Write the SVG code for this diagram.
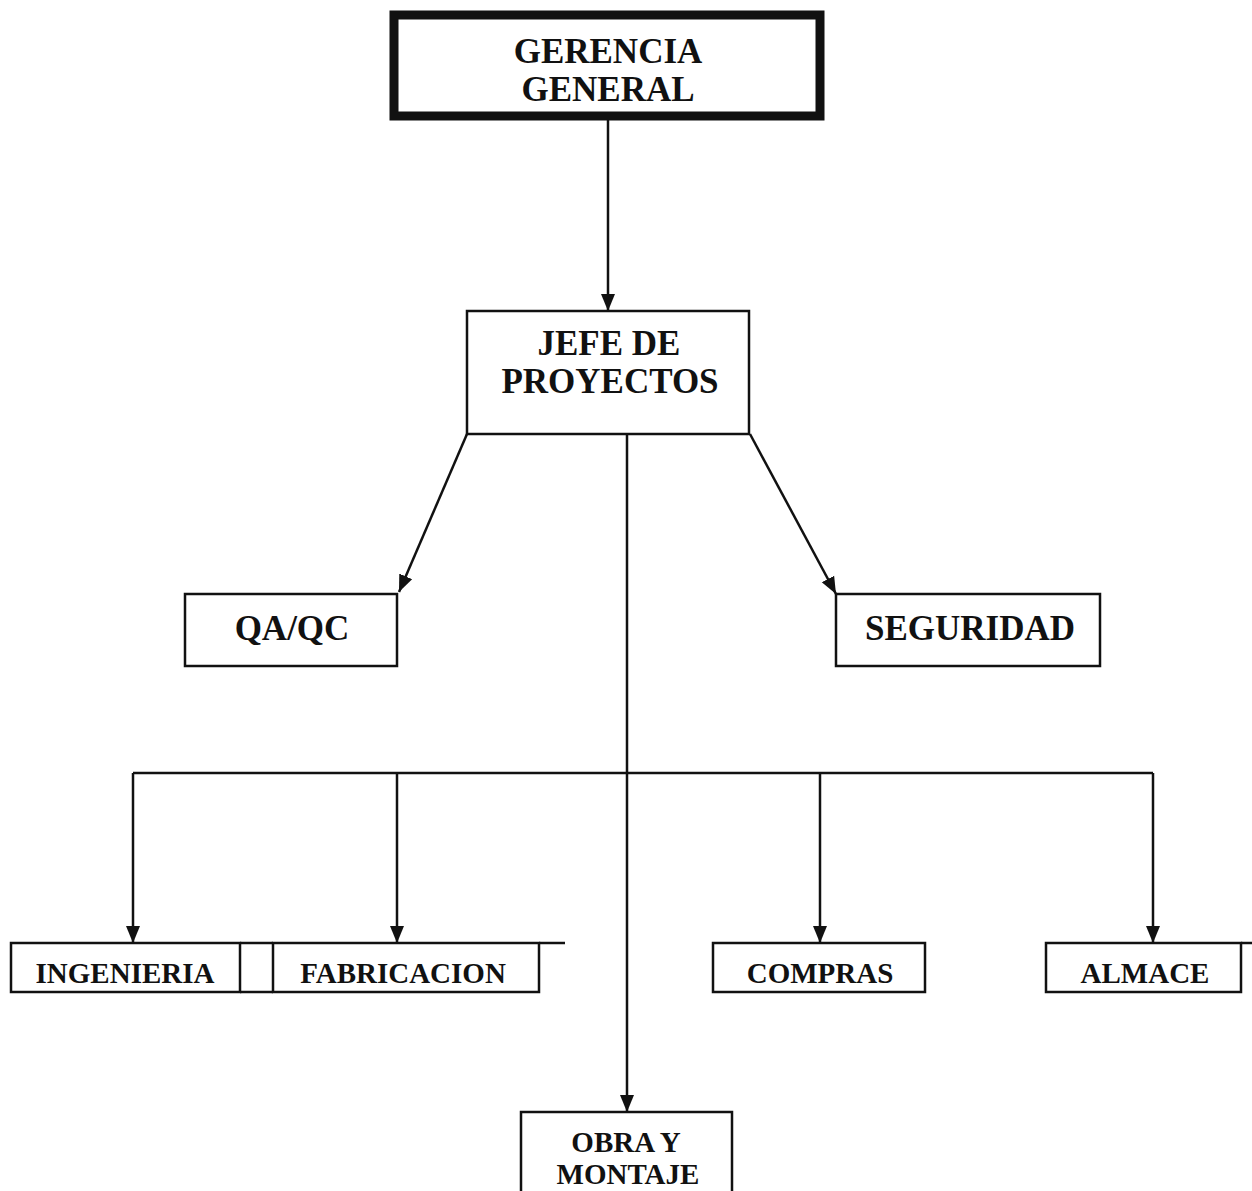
<svg xmlns="http://www.w3.org/2000/svg" width="1252" height="1191" viewBox="0 0 1252 1191">
<style>
.box{fill:#fff;stroke:#111;stroke-width:2.5}
.ln{fill:none;stroke:#111;stroke-width:2.5}
.t{font-family:"Liberation Serif","Times New Roman",serif;font-weight:bold;fill:#111;text-anchor:middle}
.big{font-size:35px}
.sm{font-size:29px}
</style>
<defs>
<marker id="ah" markerUnits="userSpaceOnUse" markerWidth="18" markerHeight="16" refX="17" refY="8" orient="auto">
<path d="M0,1 L17,8 L0,15 z" fill="#111"/>
</marker>
</defs>
<rect width="1252" height="1191" fill="#fff"/>
<g id="connectors">
<line class="ln" x1="608" y1="120" x2="608" y2="311" marker-end="url(#ah)"/>
<line class="ln" x1="467" y1="434" x2="399" y2="592" marker-end="url(#ah)"/>
<line class="ln" x1="750" y1="434" x2="836" y2="594" marker-end="url(#ah)"/>
<line class="ln" x1="627" y1="434" x2="627" y2="1112" marker-end="url(#ah)"/>
<line class="ln" x1="133" y1="773" x2="1153" y2="773"/>
<line class="ln" x1="133" y1="773" x2="133" y2="943" marker-end="url(#ah)"/>
<line class="ln" x1="397" y1="773" x2="397" y2="943" marker-end="url(#ah)"/>
<line class="ln" x1="820" y1="773" x2="820" y2="943" marker-end="url(#ah)"/>
<line class="ln" x1="1153" y1="773" x2="1153" y2="943" marker-end="url(#ah)"/>
</g>
<g id="gerencia">
<rect x="394" y="15" width="426" height="101" fill="#fff" stroke="#111" stroke-width="9"/>
<text class="t big" x="608" y="63">GERENCIA</text>
<text class="t big" x="608" y="101">GENERAL</text>
</g>
<g id="jefe">
<rect class="box" x="467" y="311" width="282" height="123"/>
<text class="t big" x="609" y="355">JEFE DE</text>
<text class="t big" x="610" y="393">PROYECTOS</text>
</g>
<g id="qaqc">
<rect class="box" x="185" y="594" width="212" height="72"/>
<text class="t big" x="292" y="640">QA/QC</text>
</g>
<g id="seguridad">
<rect class="box" x="836" y="594" width="264" height="72"/>
<text class="t big" x="970" y="640">SEGURIDAD</text>
</g>
<g id="ingenieria">
<rect class="box" x="11" y="943" width="229" height="49"/>
<text class="t sm" x="125" y="983">INGENIERIA</text>
</g>
<g id="fabricacion">
<rect class="box" x="273" y="943" width="266" height="49"/>
<line class="ln" x1="240" y1="943" x2="273" y2="943"/>
<line class="ln" x1="240" y1="992" x2="273" y2="992"/>
<line class="ln" x1="539" y1="943" x2="565" y2="943" stroke-width="1.5"/>
<text class="t sm" x="403" y="983">FABRICACION</text>
</g>
<g id="compras">
<rect class="box" x="713" y="943" width="212" height="49"/>
<text class="t sm" x="820" y="983">COMPRAS</text>
</g>
<g id="almace">
<rect class="box" x="1046" y="943" width="195" height="49"/>
<line class="ln" x1="1241" y1="943" x2="1252" y2="943" stroke-width="1.5"/>
<text class="t sm" x="1145" y="983">ALMACE</text>
</g>
<g id="obra">
<rect class="box" x="521" y="1112" width="211" height="90"/>
<text class="t sm" x="626" y="1152">OBRA Y</text>
<text class="t sm" x="628" y="1184">MONTAJE</text>
</g>
</svg>
